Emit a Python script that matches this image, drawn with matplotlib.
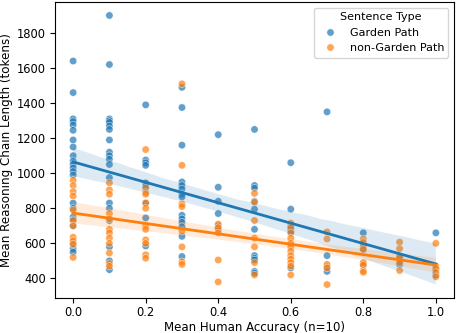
import numpy as np
import pandas as pd
import matplotlib
matplotlib.use("Agg")
import matplotlib.pyplot as plt
import seaborn as sns

# Garden Path sentences: (accuracy, mean reasoning length)
gp_acc = ([0.0] * 22 + [0.1] * 19 + [0.2] * 9 + [0.3] * 14 + [0.4] * 6 +
          [0.5] * 11 + [0.6] * 6 + [0.7] * 4 + [0.8] * 3 + [0.9] * 2 + [1.0] * 3)
gp_len = [1640, 1460, 1310, 1295, 1275, 1245, 1190, 1150, 1100, 1070, 1050, 1030, 1010, 990, 830, 800, 750, 735, 700, 600, 570, 550,
          1900, 1620, 1310, 1300, 1290, 1270, 1250, 1190, 1120, 1100, 1080, 1050, 975, 830, 800, 730, 580, 500, 450,
          1390, 1075, 1060, 1045, 945, 925, 830, 745, 585,
          1490, 1375, 1160, 950, 930, 910, 880, 865, 760, 740, 720, 695, 640, 525,
          1220, 920, 840, 770, 700, 680,
          1250, 930, 915, 840, 795, 680, 530, 515, 505, 440, 430,
          1060, 795, 700, 680, 665, 460,
          1350, 530, 465, 440,
          660, 570, 480,
          515, 480,
          660, 455, 420]

# non-Garden Path sentences
ngp_acc = ([0.0] * 11 + [0.1] * 12 + [0.2] * 12 + [0.3] * 8 + [0.4] * 5 +
           [0.5] * 7 + [0.6] * 12 + [0.7] * 5 + [0.8] * 8 + [0.9] * 5 + [1.0] * 5)
ngp_len = [960, 930, 895, 870, 790, 730, 700, 635, 615, 595, 520,
           945, 905, 880, 770, 740, 680, 660, 630, 600, 545, 485, 470,
           1135, 915, 890, 880, 830, 800, 700, 680, 620, 600, 535, 515,
           1510, 1045, 825, 810, 670, 580, 495, 480,
           710, 690, 660, 505, 380,
           885, 835, 730, 630, 580, 490, 420,
           715, 690, 660, 630, 600, 580, 555, 530, 510, 490, 470, 420,
           665, 625, 480, 460, 365,
           625, 605, 585, 565, 490, 475, 445, 435,
           607, 570, 525, 490, 445,
           600, 470, 455, 435, 410]

types = ["Garden Path", "non-Garden Path"]

df = pd.DataFrame({
    "acc": gp_acc + ngp_acc,
    "len": gp_len + ngp_len,
    "type": [types[0]] * len(gp_acc) + [types[1]] * len(ngp_acc),
})

plt.rcParams["font.family"] = ["DejaVu Sans"]
plt.rcParams["font.size"] = 8

fig, ax = plt.subplots(figsize=(4.58, 3.33), dpi=100)
fig.subplots_adjust(left=55 / 458, right=454 / 458, top=1 - 2 / 333, bottom=1 - 298 / 333)

colors = ["#1f77b4", "#ff7f0e"]
sns.scatterplot(data=df, x="acc", y="len", hue="type", hue_order=types,
                palette=colors, alpha=0.7, s=28, ax=ax)
for t, c in zip(types, colors):
    sub = df[df["type"] == t]
    sns.regplot(data=sub, x="acc", y="len", scatter=False, color=c, ax=ax,
                seed=0, line_kws={"lw": 2})

ax.set_xlabel("Mean Human Accuracy (n=10)", fontsize=8.5, labelpad=1)
ax.set_ylabel("Mean Reasoning Chain Length (tokens)", fontsize=8.6, labelpad=2.5)
ax.set_xticks([0.0, 0.2, 0.4, 0.6, 0.8, 1.0])
ax.set_yticks([400, 600, 800, 1000, 1200, 1400, 1600, 1800])
ax.tick_params(axis="y", labelsize=8.3, pad=3)
ax.tick_params(axis="x", labelsize=8.3, pad=2.5)
ax.legend(title="Sentence Type", loc="upper right", fontsize=8, title_fontsize=8)

fig.savefig("out.png", dpi=100)
